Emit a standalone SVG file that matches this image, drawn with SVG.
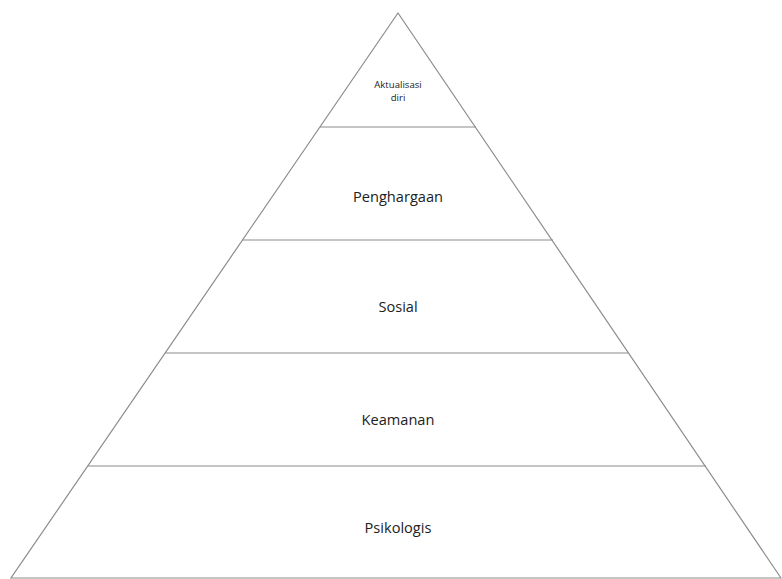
<svg xmlns="http://www.w3.org/2000/svg" width="782" height="579" viewBox="0 0 782 579">
<style>
.ln{stroke:#8c8c8c;stroke-width:1.2;fill:none}
.t{font-family:"Open Sans","Liberation Sans",sans-serif;font-size:14.6px;fill:#222;text-anchor:middle}
.s{font-family:"Open Sans","Liberation Sans",sans-serif;font-size:9.6px;fill:#222;text-anchor:middle}
</style>
<rect width="782" height="579" fill="#fff"/>
<g id="connectors">
<path class="ln" d="M398 13 L11 578 L781 578 Z"/>
<line class="ln" x1="320" y1="127" x2="476" y2="127"/>
<line class="ln" x1="242" y1="240" x2="553" y2="240"/>
<line class="ln" x1="165" y1="353" x2="629" y2="353"/>
<line class="ln" x1="88" y1="466" x2="706" y2="466"/>
</g>
<g id="aktualisasi"><text class="s" x="398" y="88">Aktualisasi</text><text class="s" x="398" y="101">diri</text></g>
<g id="penghargaan"><text class="t" x="398" y="202">Penghargaan</text></g>
<g id="sosial"><text class="t" x="398" y="312">Sosial</text></g>
<g id="keamanan"><text class="t" x="398" y="425">Keamanan</text></g>
<g id="psikologis"><text class="t" x="398" y="533">Psikologis</text></g>
</svg>
